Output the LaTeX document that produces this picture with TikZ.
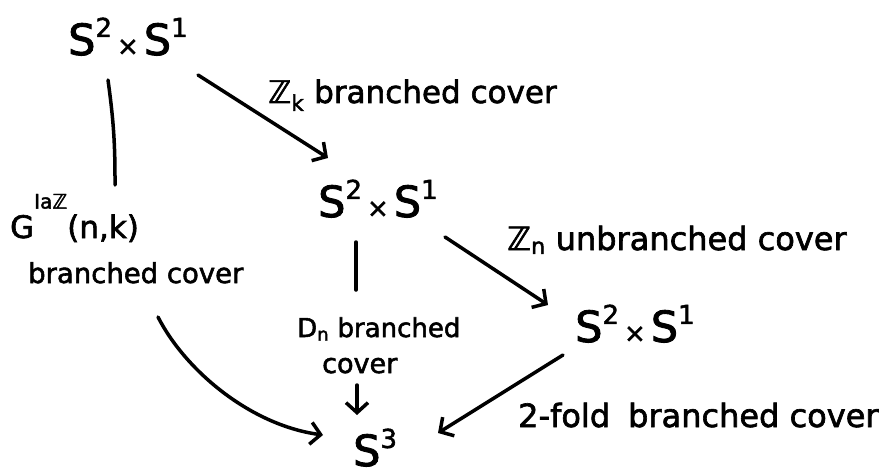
\documentclass[tikz,border=0pt]{standalone}
\usepackage{fontspec}
\setmainfont{DejaVu Sans}[FakeBold=2]
\usetikzlibrary{arrows.meta}
\newcommand{\supx}[1]{\raisebox{0.42em}{\fontsize{26}{26}\selectfont #1}}
\newcommand{\sxs}{S\supx{2}\hspace{5pt}{\fontsize{26}{26}\selectfont ×}\hspace{5pt}S\supx{1}}
\begin{document}
\begin{tikzpicture}[x=1pt,y=-1pt,
  space/.style={inner sep=0pt,anchor=base west,font=\fontsize{43}{46}\selectfont},
  lab/.style={inner sep=0pt,anchor=base west,font=\fontsize{29}{33}\selectfont},
  conn/.style={line width=3.5pt,line cap=round},
  arr/.style={conn,-{Straight Barb[length=10pt,width=22pt,line width=3.5pt]}}]
\useasboundingbox (0,0) rectangle (891,476);
\node[space] (top) at (68,55) {\sxs};
\node[space] (mid) at (318,217) {\sxs};
\node[space] (right) at (575,342) {\sxs};
\node[space] (s3) at (353,466) {S\supx{3}};
\node[lab,font=\fontsize{31}{34}\selectfont] (zk) at (268,103) {ℤ\textsubscript{k} branched cover};
\node[lab,font=\fontsize{31}{34}\selectfont] (glab) at (10,238) {G\raisebox{0.95em}{\fontsize{20}{20}\selectfont Iaℤ}(n,k)};
\node[lab,font=\fontsize{27.5}{30}\selectfont] (gbc) at (28,283) {branched cover};
\node[lab,font=\fontsize{32}{35}\selectfont] (zn) at (507,250) {ℤ\textsubscript{n}\hspace{10pt}unbranched cover};
\node[lab,font=\fontsize{26}{28}\selectfont] (dn) at (297,337) {D\textsubscript{n} branched};
\node[lab,font=\fontsize{27}{30}\selectfont] (dcov) at (322,373) {cover};
\node[lab,font=\fontsize{32}{35}\selectfont] (two) at (518,427) {2-fold\hspace{18pt}branched cover};
% connectors
\draw[arr] ([xshift=130pt,yshift=-20pt]top.base west) -- ([xshift=10pt,yshift=59pt]mid.base west);
\draw[conn] ([xshift=40pt,yshift=-25pt]top.base west) to[bend left=4] ([xshift=105pt,yshift=53pt]glab.base west);
\draw[arr] ([xshift=130pt,yshift=-34pt]gbc.base west) .. controls (185,370) and (250,425) .. ([xshift=-30pt,yshift=31pt]s3.base west);
\draw[conn] ([xshift=38pt,yshift=-25pt]mid.base west) -- ([xshift=38pt,yshift=-73pt]mid.base west);
\draw[arr] ([xshift=35pt,yshift=-12pt]dcov.base west) -- ([xshift=35pt,yshift=-42pt]dcov.base west);
\draw[arr] ([xshift=127pt,yshift=-20pt]mid.base west) -- ([xshift=-27pt,yshift=37pt]right.base west);
\draw[arr] ([xshift=-12pt,yshift=-13pt]right.base west) -- ([xshift=85pt,yshift=33pt]s3.base west);
\end{tikzpicture}
\end{document}
